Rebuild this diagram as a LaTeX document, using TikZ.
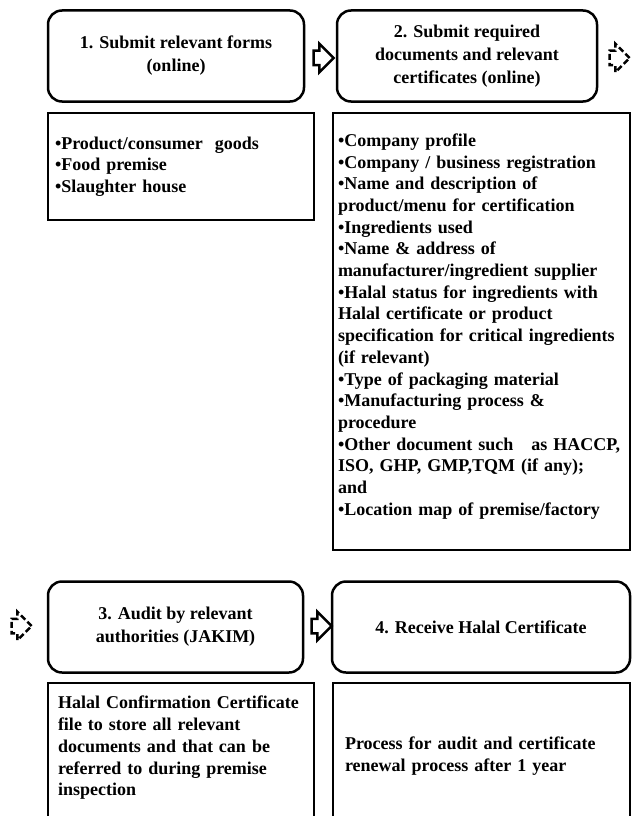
\documentclass[tikz,border=0pt]{standalone}
\usepackage{fontspec}
\setmainfont{Liberation Serif}
\usetikzlibrary{shapes,arrows}

\begin{document}
\begin{tikzpicture}[x=1pt,y=-1pt]
	\tikzstyle{stepbox} = [draw, line width=2.5pt, rounded corners=14pt, align=center, inner sep=0pt, minimum height=91pt, font=\fontsize{18}{23}\selectfont\bfseries]
	\tikzstyle{listbox} = [draw, line width=2.5pt, align=left, inner sep=0pt, font=\fontsize{18}{21.7}\selectfont\bfseries]
	\tikzstyle{flow} = [draw, single arrow, fill=white, line width=2.5pt, inner xsep=0pt, inner ysep=6pt, minimum height=20pt, single arrow head extend=7pt]
	\tikzstyle{flow_dash} = [flow, dashed, dash pattern=on 6pt off 3pt]
	\clip (0,0) rectangle (633,816);

	% Step boxes
	\node[stepbox, minimum width=256pt] (step1) at (176,56) {1. Submit relevant forms\\(online)};
	\node[stepbox, minimum width=260pt] (step2) at (467,56) {2. Submit required\\documents and relevant\\certificates (online)};
	\node[stepbox, minimum width=255pt] (step3) at (175.5,627) {3. Audit by relevant\\authorities (JAKIM)};
	\node[stepbox, minimum width=298pt] (step4) at (481,627) {4. Receive Halal Certificate};

	% List boxes
	\node[listbox, minimum width=266pt, minimum height=107pt, text width=252pt] (list1) at (181,166.5) {%
		•Product/consumer\ \ goods\\
		•Food premise\\
		•Slaughter house};
	\node[listbox, minimum width=297pt, minimum height=437pt, text width=287pt] (list2) at (481.5,331.5) {%
		•Company profile\\
		•Company / business registration\\
		•Name and description of\\
		product/menu for certification\\
		•Ingredients used\\
		•Name \& address of\\
		manufacturer/ingredient supplier\\
		•Halal status for ingredients with\\
		Halal certificate or product\\
		specification for critical ingredients\\
		(if relevant)\\
		•Type of packaging material\\
		•Manufacturing process \&\\
		procedure\\
		•Other document such\ \ \ as HACCP,\\
		ISO, GHP, GMP,TQM (if any);\\
		and\\
		•Location map of premise/factory\rule[-14pt]{0pt}{0pt}};
	\node[listbox, minimum width=266pt, minimum height=146pt, text width=246pt] (list3) at (181,756) {%
		Halal Confirmation Certificate\\
		file to store all relevant\\
		documents and that can be\\
		referred to during premise\\
		inspection\rule[-20pt]{0pt}{0pt}};
	\node[listbox, minimum width=297pt, minimum height=146pt, text width=273pt] (list4) at (481.5,756) {%
		Process for audit and certificate\\
		renewal process after 1 year};

	% Flow arrows
	\node[flow] (flow12) at (320,58) {};
	\node[flow_dash] (flow23a) at (616,58) {};
	\node[flow_dash] (flow23b) at (18,626) {};
	\node[flow] (flow34) at (318,626) {};
\end{tikzpicture}
\end{document}
